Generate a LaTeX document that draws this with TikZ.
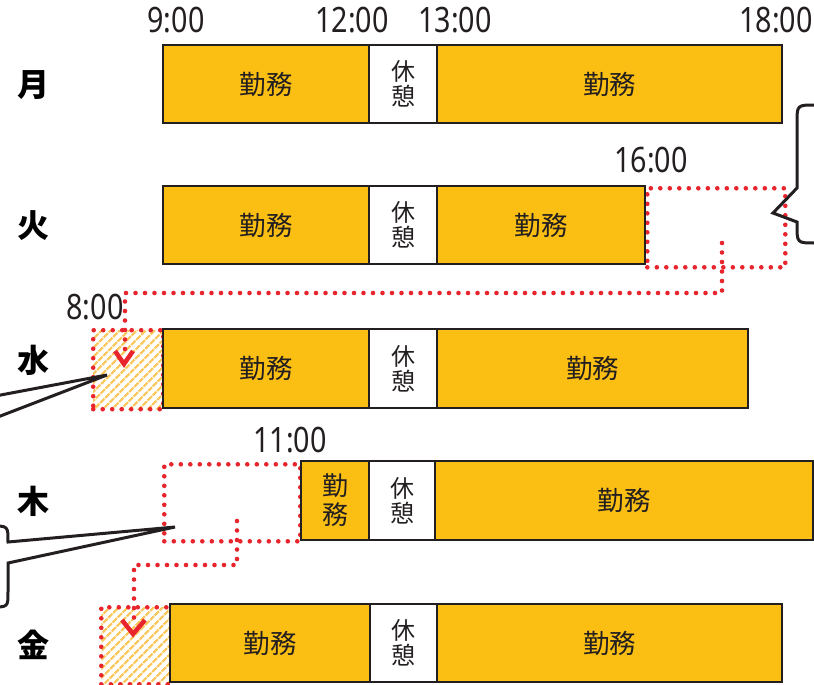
\documentclass[tikz,border=0pt]{standalone}
\usepackage{fontspec}
\setmainfont{Noto Sans CJK JP}[BoldFont={Noto Sans CJK JP Bold}]
\newfontfamily\dayfont{Noto Sans CJK JP Black}
\newfontfamily\numfont{Noto Sans}[FakeStretch=0.82]
\usetikzlibrary{patterns.meta}
\definecolor{workyellow}{HTML}{FBBF14}
\definecolor{hatchcol}{HTML}{FAC85E}
\definecolor{dotred}{HTML}{E8242C}
\definecolor{ink}{HTML}{231F20}
\tikzset{
  work/.style={draw=ink, fill=workyellow, line width=2pt, inner sep=0pt, text=ink, font=\fontsize{26.5}{29}\selectfont, anchor=west},
  rest/.style={draw=ink, fill=white, line width=2pt, inner sep=0pt, text=ink, align=center, font=\fontsize{24}{25}\selectfont, anchor=west},
  dotline/.style={draw=dotred, line width=4.6pt, line cap=round, dash pattern=on 0pt off 9.5pt},
  dotbox/.style={dotline, inner sep=0pt, anchor=north west},
  hatchbox/.style={dotbox, pattern={Lines[angle=45,distance=6.5pt,line width=2.4pt]}, pattern color=hatchcol},
  chev/.style={draw=dotred, line width=4.5pt},
  timelbl/.style={text=ink, font=\numfont\fontsize{35}{35}\selectfont, inner sep=0pt},
  daylbl/.style={text=black, font=\dayfont\fontsize{32}{32}\selectfont, inner sep=0pt},
  callout/.style={draw=ink, line width=3pt, line join=miter},
}
\begin{document}
\begin{tikzpicture}[x=1pt,y=-1pt]
\useasboundingbox (0,0) rectangle (814,685);
\clip (0,0) rectangle (814,685);
% time labels
\node[timelbl] (t9) at (176,20) {9:00};
\node[timelbl] (t12) at (352,20) {12:00};
\node[timelbl] (t13) at (455,20) {13:00};
\node[timelbl] (t18) at (776,20) {18:00};
\node[timelbl] (t16) at (651,160) {16:00};
\node[timelbl] (t8) at (95,307) {8:00};
\node[timelbl] (t11) at (290,440) {11:00};
% day labels
\node[daylbl] (dmon) at (33,85) {月};
\node[daylbl] (dtue) at (33,226) {火};
\node[daylbl] (dwed) at (33,360) {水};
\node[daylbl] (dthu) at (33,501) {木};
\node[daylbl] (dfri) at (33,645) {金};
% dotted / hatched boxes
\node[dotbox, minimum width=138pt, minimum height=79pt] (tueext) at (645,186) {};
\node[dotbox, minimum width=136pt, minimum height=77pt] (thugap) at (162,462) {};
\node[hatchbox, minimum width=70pt, minimum height=79pt] (wedext) at (92,329) {};
\node[hatchbox, minimum width=70pt, minimum height=77pt] (friext) at (99,605) {};
% Monday
\node[work, minimum width=206pt, minimum height=78pt] (m1) at (162,84) {勤務};
\node[rest, minimum width=68pt, minimum height=78pt] (m2) at (368,84) {休\\憩};
\node[work, minimum width=345pt, minimum height=78pt] (m3) at (436,84) {勤務};
% Tuesday
\node[work, minimum width=206pt, minimum height=78pt] (u1) at (162,225) {勤務};
\node[rest, minimum width=68pt, minimum height=78pt] (u2) at (368,225) {休\\憩};
\node[work, minimum width=208pt, minimum height=78pt] (u3) at (436,225) {勤務};
% Wednesday
\node[work, minimum width=206pt, minimum height=79pt] (w1) at (162,368.5) {勤務};
\node[rest, minimum width=68pt, minimum height=79pt] (w2) at (368,368.5) {休\\憩};
\node[work, minimum width=311pt, minimum height=79pt] (w3) at (436,368.5) {勤務};
% Thursday
\node[work, minimum width=68pt, minimum height=79pt, align=center, font=\fontsize{26}{29}\selectfont] (h1) at (300,500.5) {勤\\務};
\node[rest, minimum width=66pt, minimum height=79pt] (h2) at (368,500.5) {休\\憩};
\node[work, minimum width=378pt, minimum height=79pt] (h3) at (434,500.5) {勤務};
% Friday
\node[work, minimum width=200pt, minimum height=78pt] (f1) at (169,643) {勤務};
\node[rest, minimum width=67pt, minimum height=78pt] (f2) at (369,643) {休\\憩};
\node[work, minimum width=345pt, minimum height=78pt] (f3) at (436,643) {勤務};
% connectors
\coordinate (a0) at (722,243);
\coordinate (a1) at (722,293);
\coordinate (a2) at (125,293);
\coordinate (a3) at (125,356);
\draw[dotline] (a0) -- (a1) -- (a2) -- (a3);
\coordinate (b0) at (237,521);
\coordinate (b1) at (237,565);
\coordinate (b2) at (134,565);
\coordinate (b3) at (134,625);
\draw[dotline] (b0) -- (b1) -- (b2) -- (b3);
% chevrons
\draw[chev] (115,351) -- (124,364) -- (133,351);
\draw[chev] (122,620) -- (133,634) -- (145,620);
% callouts
\coordinate (rc) at (773,213);
\draw[callout] (840,105) -- (815,105) .. controls (797,105) .. (797,123) -- (797,188) -- (rc) -- (797,222) -- (797,225) .. controls (797,243) .. (815,243) -- (840,243);
\coordinate (wc) at (107,375);
\draw[callout] (-10,397) -- (wc) -- (-10,420);
\coordinate (hc) at (175,527);
\draw[callout] (-20,526) -- (-8,526) .. controls (8,526) .. (8,542) -- (hc) -- (8,563) -- (8,592) .. controls (8,607) .. (-8,607) -- (-20,607);
\end{tikzpicture}
\end{document}
